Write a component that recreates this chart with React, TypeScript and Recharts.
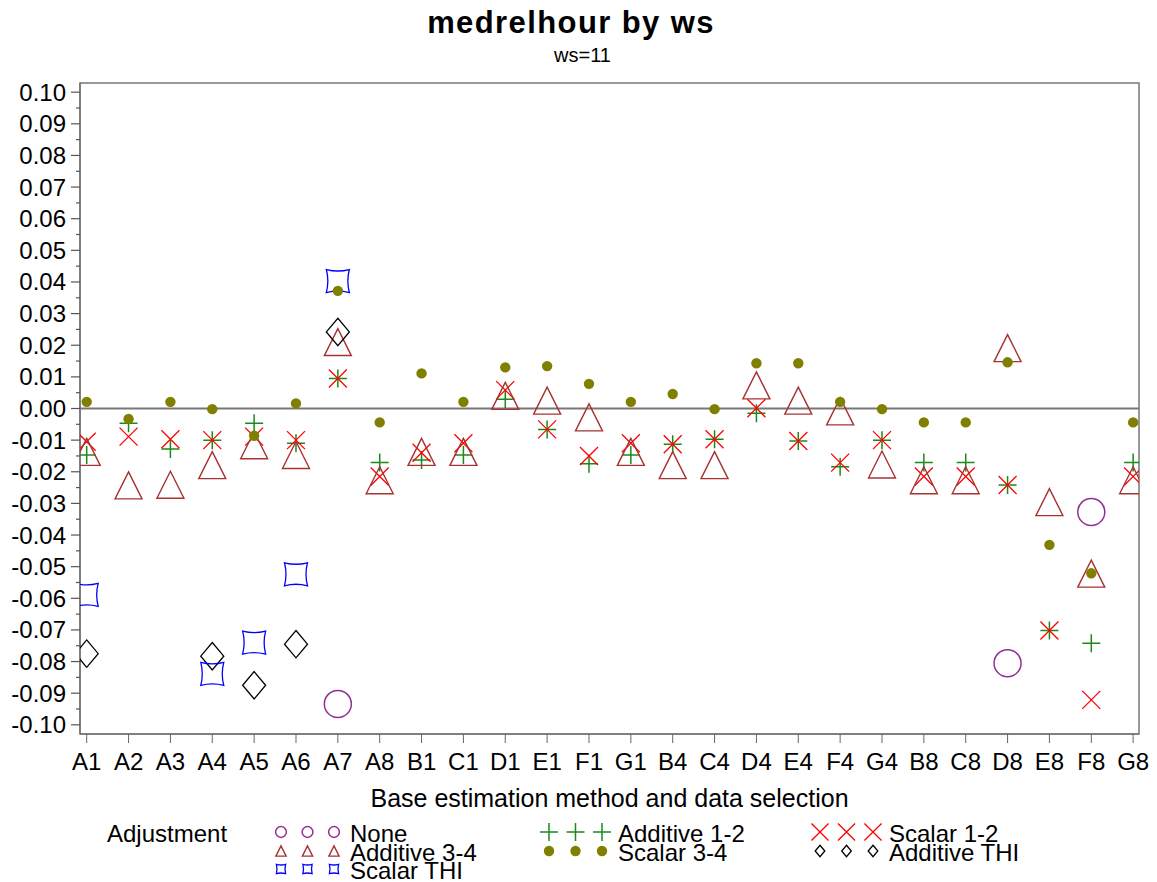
import React from "react";
import {
  ScatterChart,
  Scatter,
  XAxis,
  YAxis,
  ReferenceLine,
  ReferenceArea,
} from "recharts";

const FONT = "'Liberation Sans', Arial, sans-serif";

const categories = [
  "A1", "A2", "A3", "A4", "A5", "A6", "A7", "A8", "B1", "C1", "D1", "E1", "F1",
  "G1", "B4", "C4", "D4", "E4", "F4", "G4", "B8", "C8", "D8", "E8", "F8", "G8",
];

// one value per category, null = no point
const noneVals = [
  null, null, null, null, null, null, -0.0934, null, null, null, null, null, null,
  null, null, null, null, null, null, null, null, null, -0.0805, null, -0.0327, null,
];
const additive12 = [
  -0.0147, -0.0047, -0.0128, -0.01, -0.0047, -0.011, 0.0095, -0.0171, -0.0163, -0.0147, 0.0029, -0.0066, -0.0175,
  -0.0147, -0.0113, -0.0097, -0.0015, -0.0103, -0.0184, -0.01, -0.0171, -0.0171, -0.0242, -0.0702, -0.0742, -0.0171,
];
const scalar12 = [
  -0.0105, -0.0089, -0.0097, -0.01, -0.0089, -0.01, 0.0095, -0.0215, -0.014, -0.011, 0.0058, -0.0066, -0.015,
  -0.011, -0.0113, -0.0097, 0.0001, -0.0103, -0.0171, -0.01, -0.0215, -0.0215, -0.0242, -0.0702, -0.0921, -0.0215,
];
const additive34 = [
  -0.0137, -0.0243, -0.0241, -0.0179, -0.0116, -0.0147, 0.021, -0.0227, -0.0137, -0.0137, 0.004, 0.0025, -0.0028,
  -0.0137, -0.0179, -0.0179, 0.0073, 0.0025, -0.0009, -0.0177, -0.0227, -0.0227, 0.0191, -0.0296, -0.0522, -0.0227,
];
const scalar34 = [
  0.0021, -0.0033, 0.0021, -0.0002, -0.0086, 0.0016, 0.0372, -0.0044, 0.0111, 0.0021, 0.013, 0.0134, 0.0078,
  0.0021, 0.0046, -0.0002, 0.0143, 0.0143, 0.0021, -0.0002, -0.0044, -0.0044, 0.0146, -0.0431, -0.0521, -0.0044,
];
const additiveTHI = [
  -0.0775, null, null, -0.0783, -0.0875, -0.0745, 0.0242, null, null, null, null, null, null,
  null, null, null, null, null, null, null, null, null, null, null, null, null,
];
const scalarTHI = [
  -0.0589, null, null, -0.0839, -0.074, -0.0524, 0.0403, null, null, null, null, null, null,
  null, null, null, null, null, null, null, null, null, null, null, null, null,
];

const toPoints = (vals: (number | null)[]) =>
  vals
    .map((v, i) => (v === null ? null : { x: i, y: v }))
    .filter((p): p is { x: number; y: number } => p !== null);

const COLORS = {
  none: "#932f94",
  add12: "#1a8a1a",
  sc12: "#ff0000",
  add34: "#a83232",
  sc34: "#808000",
  addTHI: "#000000",
  scTHI: "#0000ff",
};

type ShapeProps = { cx?: number; cy?: number };

// marker drawing, s = scale (1 in plot, smaller in legend)
const drawCircle = (cx: number, cy: number, s = 1) => (
  <circle cx={cx} cy={cy} r={13.5 * s} fill="none" stroke={COLORS.none} strokeWidth={1.5} />
);
const drawTriangle = (cx: number, cy: number, s = 1) => {
  const h = 13.5 * s;
  return (
    <path
      d={`M${cx},${cy - h} L${cx + h},${cy + h} L${cx - h},${cy + h} Z`}
      fill="none"
      stroke={COLORS.add34}
      strokeWidth={1.4}
    />
  );
};
const drawPlus = (cx: number, cy: number, s = 1) => {
  const a = 9 * s;
  return (
    <path
      d={`M${cx - a},${cy} L${cx + a},${cy} M${cx},${cy - a} L${cx},${cy + a}`}
      stroke={COLORS.add12}
      strokeWidth={1.5}
    />
  );
};
const drawX = (cx: number, cy: number, s = 1) => {
  const a = 9 * s;
  return (
    <path
      d={`M${cx - a},${cy - a} L${cx + a},${cy + a} M${cx - a},${cy + a} L${cx + a},${cy - a}`}
      stroke={COLORS.sc12}
      strokeWidth={1.3}
    />
  );
};
const drawDot = (cx: number, cy: number, s = 1) => (
  <circle cx={cx} cy={cy} r={5.2 * s} fill={COLORS.sc34} />
);
const drawDiamond = (cx: number, cy: number, s = 1) => {
  const w = 11.5 * s;
  const h = 13.7 * s;
  return (
    <path
      d={`M${cx},${cy - h} L${cx + w},${cy} L${cx},${cy + h} L${cx - w},${cy} Z`}
      fill="none"
      stroke={COLORS.addTHI}
      strokeWidth={1.3}
    />
  );
};
const drawStar = (cx: number, cy: number, s = 1) => {
  const a = 11.5 * s;
  const b = 8.5 * s;
  return (
    <path
      d={`M${cx - a},${cy - a} Q${cx},${cy - b} ${cx + a},${cy - a} Q${cx + b},${cy} ${cx + a},${cy + a} Q${cx},${cy + b} ${cx - a},${cy + a} Q${cx - b},${cy} ${cx - a},${cy - a} Z`}
      fill="none"
      stroke={COLORS.scTHI}
      strokeWidth={1.3}
    />
  );
};

const shapeOf =
  (draw: (cx: number, cy: number, s?: number) => React.ReactElement) =>
  ({ cx = 0, cy = 0 }: ShapeProps) =>
    draw(cx, cy);

// legendScale: size of the legend symbol relative to the plot marker
const series = [
  { name: "None", vals: noneVals, draw: drawCircle, legendScale: 0.4 },
  { name: "Additive 1-2", vals: additive12, draw: drawPlus, legendScale: 1 },
  { name: "Scalar 1-2", vals: scalar12, draw: drawX, legendScale: 0.95 },
  { name: "Additive 3-4", vals: additive34, draw: drawTriangle, legendScale: 0.38 },
  { name: "Additive THI", vals: additiveTHI, draw: drawDiamond, legendScale: 0.42 },
  { name: "Scalar THI", vals: scalarTHI, draw: drawStar, legendScale: 0.4 },
  { name: "Scalar 3-4", vals: scalar34, draw: drawDot, legendScale: 1 },
];

// legend layout: [series name, column x, row y]
const legendItems: [string, number, number][] = [
  ["None", 281, 832],
  ["Additive 1-2", 549, 832],
  ["Scalar 1-2", 820, 832],
  ["Additive 3-4", 281, 851],
  ["Scalar 3-4", 549, 851],
  ["Additive THI", 820, 851],
  ["Scalar THI", 281, 869],
];

const yTicks = Array.from({ length: 41 }, (_, i) => (i - 20) / 200);
const xTicks = categories.map((_, i) => i);

const PLOT_LEFT = 80;

const YTick = ({ y, payload }: { y?: number; payload?: { value: number } }) => {
  const v = payload?.value ?? 0;
  const major = Math.round(v * 1000) % 10 === 0;
  const yy = y ?? 0;
  return (
    <g>
      <line
        x1={PLOT_LEFT - (major ? 9 : 4)}
        x2={PLOT_LEFT}
        y1={yy}
        y2={yy}
        stroke="#555"
        strokeWidth={1.2}
      />
      {major && (
        <text
          x={PLOT_LEFT - 14}
          y={yy}
          textAnchor="end"
          dominantBaseline="central"
          fontSize={24}
          fontFamily={FONT}
          fill="#000"
        >
          {v.toFixed(2)}
        </text>
      )}
    </g>
  );
};

export default function App() {
  return (
    <div
      style={{
        position: "absolute",
        left: 0,
        top: 0,
        width: 1157,
        height: 882,
        background: "#fff",
        fontFamily: FONT,
      }}
    >
      <ScatterChart
        width={1157}
        height={882}
        margin={{ top: 83, right: 18, left: 0, bottom: 100 }}
      >
        <XAxis
          type="number"
          dataKey="x"
          domain={[-0.16, 25.14]}
          ticks={xTicks}
          interval={0}
          allowDataOverflow
          tickFormatter={(i: number) => categories[i] ?? ""}
          tickSize={9}
          tickMargin={10}
          height={48}
          stroke="#666"
          tick={{ fill: "#000", fontSize: 24, fontFamily: FONT }}
        />
        <YAxis
          type="number"
          dataKey="y"
          domain={[-0.1029, 0.1029]}
          ticks={yTicks}
          interval={0}
          allowDataOverflow
          width={80}
          tickLine={false}
          stroke="#666"
          tick={<YTick />}
        />
        <ReferenceArea
          x1={-0.16}
          x2={25.14}
          y1={-0.1029}
          y2={0.1029}
          fill="none"
          stroke="#777"
          strokeWidth={1.5}
          ifOverflow="extendDomain"
        />
        <ReferenceLine y={0} stroke="#777" strokeWidth={1.8} />
        {series.map((s) => (
          <Scatter
            key={s.name}
            name={s.name}
            data={toPoints(s.vals)}
            shape={shapeOf(s.draw)}
            isAnimationActive={false}
          />
        ))}
      </ScatterChart>

      <div
        style={{
          position: "absolute",
          left: 0,
          width: 1142,
          top: 5,
          textAlign: "center",
          fontSize: 31,
          fontWeight: "bold",
          letterSpacing: 1.4,
        }}
      >
        medrelhour by ws
      </div>
      <div
        style={{
          position: "absolute",
          left: 0,
          width: 1157,
          top: 44,
          textAlign: "center",
          fontSize: 20,
          paddingLeft: 8,
          boxSizing: "border-box",
        }}
      >
        ws=11
      </div>
      <div
        style={{
          position: "absolute",
          left: 80,
          width: 1059,
          top: 783,
          textAlign: "center",
          fontSize: 25,
          lineHeight: "30px",
        }}
      >
        Base estimation method and data selection
      </div>

      <svg
        width={1157}
        height={882}
        style={{ position: "absolute", left: 0, top: 0, pointerEvents: "none" }}
      >
        <text x={107} y={833} fontSize={24} fontFamily={FONT} dominantBaseline="central">
          Adjustment
        </text>
        {legendItems.map(([name, lx, ly]) => {
          const s = series.find((d) => d.name === name)!;
          return (
            <g key={name}>
              {[0, 1, 2].map((k) => (
                <g key={k}>{s.draw(lx + k * 26.5, ly, s.legendScale)}</g>
              ))}
              <text
                x={lx + 69}
                y={ly + 1}
                fontSize={24}
                fontFamily={FONT}
                dominantBaseline="central"
              >
                {name}
              </text>
            </g>
          );
        })}
      </svg>
    </div>
  );
}
